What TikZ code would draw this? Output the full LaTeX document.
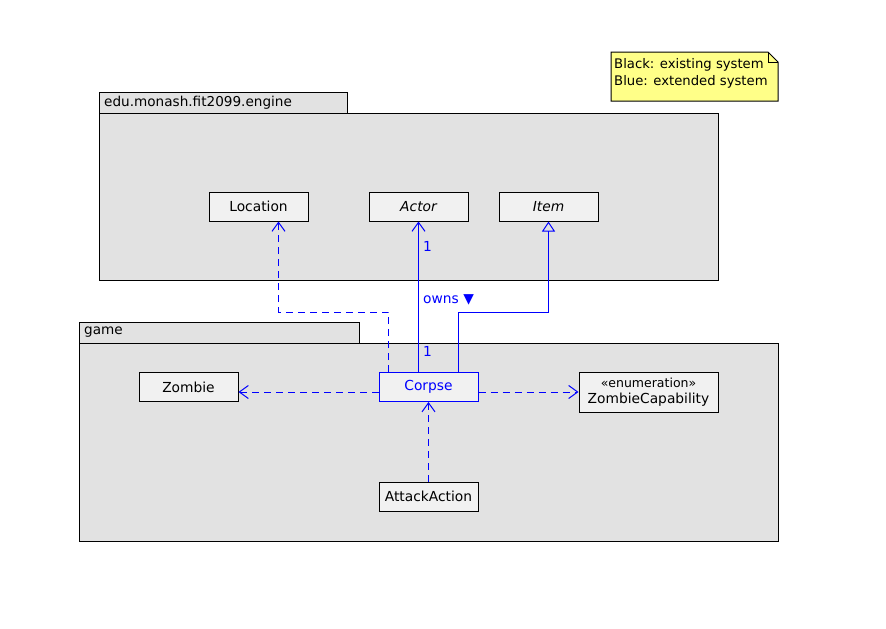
\documentclass[tikz,border=0pt]{standalone}
\usepackage{fontspec}
\setmainfont{DejaVu Sans}
\usetikzlibrary{arrows.meta,positioning}
\definecolor{pkgfill}{HTML}{E2E2E2}
\definecolor{clsfill}{HTML}{F1F1F1}
\definecolor{notefill}{HTML}{FFFF88}
\definecolor{extblue}{HTML}{0000FF}
\tikzset{
  classbox/.style={draw, fill=clsfill, line width=1pt, minimum width=99, minimum height=29, inner sep=0pt, font=\fontsize{13.8}{16}\selectfont},
  pkgtab/.style={anchor=west, inner sep=0pt, font=\fontsize{13.6}{16}\selectfont},
  depline/.style={extblue, line width=1pt, dash pattern=on 7pt off 5pt, -{Straight Barb[length=9pt,width=13pt,line width=1pt]}},
  assocline/.style={extblue, line width=1pt, -{Straight Barb[length=9pt,width=13pt,line width=1pt]}},
  inhline/.style={extblue, line width=1pt, -{Triangle[open,length=10pt,width=13pt,line width=1pt]}},
  multlabel/.style={extblue, inner sep=0pt, font=\fontsize{13.8}{16}\selectfont}
}
\begin{document}
\begin{tikzpicture}[x=1pt, y=-1pt]
\useasboundingbox (0,0) rectangle (886,629);

% Legend note
\draw[line width=1pt, fill=notefill] (611,52) -- (768,52) -- (778,62) -- (778,101) -- (611,101) -- cycle;
\draw[line width=1pt] (768,52) -- (768,62) -- (778,62);
\node[anchor=north west, align=left, inner sep=0pt, font=\fontsize{13.2}{17}\selectfont] (legend) at (614,58) {Black: existing system\\Blue: extended system};

% Package edu.monash.fit2099.engine
\draw[line width=1pt, fill=pkgfill] (99,92) rectangle (347,113);
\draw[line width=1pt, fill=pkgfill] (99,113) rectangle (718,280);
\node[pkgtab] (enginetab) at (104,102.5) {edu.monash.fit2099.engine};

% Package game
\draw[line width=1pt, fill=pkgfill] (79,322) rectangle (359,343);
\draw[line width=1pt, fill=pkgfill] (79,343) rectangle (778,541);
\node[pkgtab] (gametab) at (84,332.5) {game};

% Engine classes
\node[classbox] (location) at (258.5,206.5) {Location};
\node[classbox] (actor) at (418.5,206.5) {\itshape Actor};
\node[classbox] (item) at (548.5,206.5) {\itshape Item};

% Game classes
\node[classbox] (zombie) at (188.5,387) {Zombie};
\node[classbox, draw=extblue, text=extblue] (corpse) at (428.5,387) {Corpse};
\node[classbox, minimum width=139, minimum height=40, align=center, font=\fontsize{13.8}{16}\selectfont] (zombiecap) at (648.5,392) {{\fontsize{12.5}{14}\selectfont «enumeration»}\\ZombieCapability};
\node[classbox] (attackaction) at (428.5,496.5) {AttackAction};

% Corpse relations
\draw[depline] ([xshift=-40pt]corpse.north) -- ++(0,-60) -| ([xshift=20pt]location.south);
\draw[assocline] ([xshift=-10pt]corpse.north) -- (actor.south);
\draw[inhline] ([xshift=30pt]corpse.north) -- ++(0,-60) -| (item.south);
\draw[depline] ([yshift=-5pt]corpse.west) -- ([yshift=-5pt]zombie.east);
\draw[depline] ([yshift=-5pt]corpse.east) -- (zombiecap.west);
\draw[depline] (attackaction.north) -- (corpse.south);

% Association labels
\node[multlabel, anchor=west] (actormult) at (423,246) {1};
\node[multlabel, anchor=west] (corpsemult) at (423,351) {1};
\node[multlabel, anchor=west] (owns) at (423,300) {owns ▼};
\end{tikzpicture}
\end{document}
